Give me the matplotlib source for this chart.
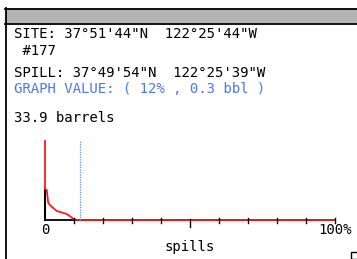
import matplotlib
matplotlib.use("Agg")
import matplotlib.pyplot as plt
from matplotlib import patches
from matplotlib.lines import Line2D

W, H = 357, 259

site_label = "SITE: 37°51'44\"N  122°25'44\"W"
site_id = " #177"
spill_label = "SPILL: 37°49'54\"N  122°25'39\"W"
graph_value = (12, 0.3)  # (% of spills, barrels)
total_bbl = 33.9

# cumulative volume curve: percent of spills vs barrels
curve_pct = [0, 0, 0.6, 1.1, 1.7, 4.0, 7.5, 9.2, 10.0, 11.5, 100]
curve_bbl = [33.9, 13.2, 12.9, 7.4, 6.4, 3.9, 2.6, 1.1, 0.3, 0, 0]

tick_pct = [0, 10, 20, 30, 40, 50, 60, 70, 80, 90, 100]

mono = "DejaVu Sans Mono"
fs = 10.1
blue_txt = "#4a78f0"


def fx(px):
    return px / W


def fy(py):
    return 1 - py / H


fig = plt.figure(figsize=(W / 100, H / 100), dpi=100)
fig.patch.set_facecolor("white")

# window frame: grey title bar + left border
fig.patches.append(patches.Rectangle((fx(6), fy(23)), 1 - fx(6), (23 - 9) / H,
                                     transform=fig.transFigure, facecolor="#b4b4b4",
                                     edgecolor="none"))
for yy in (8.5, 23.5):
    fig.lines.append(Line2D([fx(5), 1], [fy(yy), fy(yy)], transform=fig.transFigure,
                            color="black", lw=1.3))
fig.lines.append(Line2D([fx(5.5), fx(5.5)], [fy(8), 0], transform=fig.transFigure,
                        color="black", lw=1.3))

# header texts
fig.text(fx(14), fy(34), site_label, family=mono, fontsize=fs, va="center", ha="left")
fig.text(fx(14), fy(51), site_id, family=mono, fontsize=fs, va="center", ha="left")
fig.text(fx(14), fy(73), spill_label, family=mono, fontsize=fs, va="center", ha="left")
fig.text(fx(14), fy(89), "GRAPH VALUE: ( {}% , {} bbl )".format(*graph_value),
         family=mono, fontsize=fs, va="center", ha="left", color=blue_txt)
fig.text(fx(14), fy(118), "{} barrels".format(total_bbl), family=mono, fontsize=fs,
         va="center", ha="left")

# plot area
ax = fig.add_axes([fx(45), fy(220), (335 - 45) / W, (220 - 141) / H])
ax.set_xlim(0, 100)
ax.set_ylim(0, total_bbl)
ax.axis("off")

ax.plot([0, 100], [0, 0], color="black", lw=1.3, clip_on=False)
ax.plot([0, 0], [0, curve_bbl[1]], color="black", lw=1.5, clip_on=False)
ax.plot(curve_pct, curve_bbl, color="#ff1a1a", lw=1.3, clip_on=False)
ax.plot([graph_value[0], graph_value[0]], [0, total_bbl], color="#5b8cff", lw=0.9,
        linestyle=(0, (1, 1)), clip_on=False)

# ticks along the baseline
for t in tick_pct[1:]:
    lo, hi = (-3.0, 0.6) if t == 50 else (-1.2, 0.9)
    ax.plot([t, t], [lo, hi], color="black", lw=1.0, clip_on=False)

ax.text(0, -4.3, "0", family=mono, fontsize=fs, ha="center", va="center")
ax.text(100, -4.3, "100%", family=mono, fontsize=fs, ha="center", va="center")
ax.text(50, -11.6, "spills", family=mono, fontsize=fs, ha="center", va="center")

# grow box corner
fig.patches.append(patches.Rectangle((fx(350.5), 0), fx(8), (259 - 251.5) / H,
                                     transform=fig.transFigure, facecolor="white",
                                     edgecolor="black", lw=1.0))

fig.savefig("out.png", dpi=100)
